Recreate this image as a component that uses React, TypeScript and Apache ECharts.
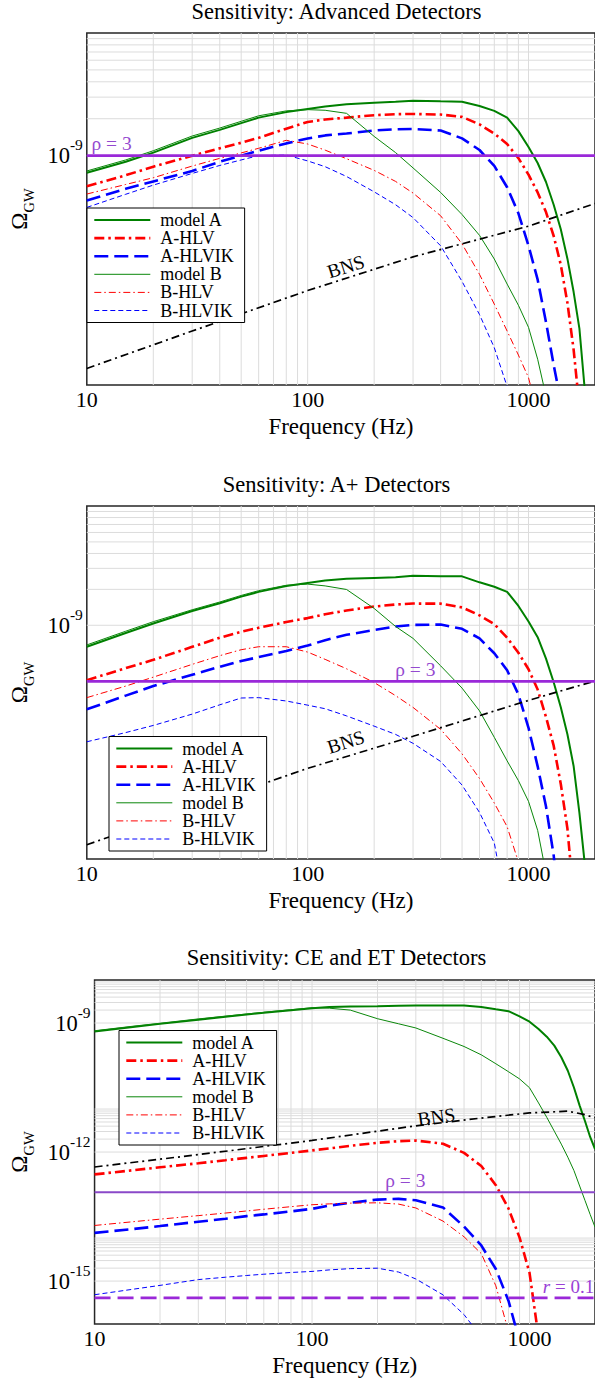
import React, { useEffect, useRef } from "react";
import * as echarts from "echarts";

const FONT = "Liberation Serif, Times New Roman, serif";

// Frequency grid (Hz) shared by the detector curves
const FREQ = [10, 15, 20, 30, 40, 50, 60, 80, 100, 120, 150, 200, 250, 300, 400, 500, 600, 700, 800, 900, 1000, 1100, 1200, 1300, 1400, 1500, 1600, 1700, 1800, 1900, 2000];
const BNS_FREQ_AB = [10, 30, 100, 300, 1000, 2000];
const BNS_FREQ_CE = [10, 30, 100, 300, 600, 1000, 1500, 1800, 2000];

// log10(Omega_GW) — Advanced detectors
const advModelA = [-9.14, -9.05, -8.975, -8.855, -8.79, -8.735, -8.69, -8.645, -8.62, -8.6, -8.58, -8.568, -8.56, -8.553, -8.557, -8.56, -8.595, -8.635, -8.69, -8.8, -8.93, -9.06, -9.215, -9.4, -9.6, -9.84, -10.11, -10.41, -10.92, null, null];
const advAHLV = [-9.25, -9.16, -9.09, -9.0, -8.94, -8.895, -8.855, -8.78, -8.725, -8.705, -8.69, -8.67, -8.662, -8.66, -8.665, -8.684, -8.745, -8.82, -8.905, -9.02, -9.155, -9.3, -9.46, -9.655, -9.89, -10.2, -10.58, -11.05, null, null, null];
const advAHLVIK = [-9.365, -9.27, -9.21, -9.125, -9.05, -9.0, -8.96, -8.9, -8.86, -8.835, -8.82, -8.795, -8.785, -8.783, -8.795, -8.859, -8.954, -9.084, -9.258, -9.47, -9.734, -10.011, -10.358, -10.707, -11.0, null, null, null, null, null, null];
const advModelB = [-9.125, -9.035, -8.96, -8.84, -8.775, -8.72, -8.675, -8.635, -8.625, -8.63, -8.655, -8.843, -8.975, -9.1, -9.3, -9.48, -9.65, -9.843, -10.047, -10.22, -10.4, -10.66, -10.96, null, null, null, null, null, null, null, null];
const advBHLV = [-9.313, -9.235, -9.18, -9.085, -9.022, -8.978, -8.94, -8.875, -8.905, -8.955, -9.025, -9.12, -9.21, -9.305, -9.49, -9.719, -9.968, -10.211, -10.43, -10.626, -10.81, -11.1, null, null, null, null, null, null, null, null, null];
const advBHLVIK = [-9.422, -9.315, -9.24, -9.145, -9.08, -9.035, -9.0, -8.995, -9.043, -9.09, -9.17, -9.295, -9.4, -9.505, -9.735, -10.025, -10.296, -10.566, -10.883, -11.4, null, null, null, null, null, null, null, null, null, null, null];
const advBNS = [-10.735, -10.43, -10.1, -9.825, -9.575, -9.39];

// A+ detectors
const apModelA = [-9.18, -9.065, -8.985, -8.88, -8.815, -8.76, -8.72, -8.67, -8.645, -8.625, -8.61, -8.603, -8.597, -8.585, -8.589, -8.59, -8.64, -8.677, -8.72, -8.838, -8.968, -9.1, -9.28, -9.478, -9.688, -9.914, -10.18, -10.574, -11.01, null, null];
const apAHLV = [-9.461, -9.36, -9.29, -9.181, -9.105, -9.054, -9.021, -8.973, -8.94, -8.908, -8.876, -8.843, -8.826, -8.818, -8.819, -8.85, -8.917, -8.99, -9.104, -9.231, -9.369, -9.539, -9.769, -10.01, -10.331, -10.704, -11.28, null, null, null, null];
const apAHLVIK = [-9.705, -9.59, -9.51, -9.415, -9.348, -9.3, -9.267, -9.215, -9.17, -9.125, -9.08, -9.04, -9.01, -8.997, -8.994, -9.03, -9.11, -9.235, -9.377, -9.58, -9.86, -10.183, -10.52, -10.93, -11.5, null, null, null, null, null, null];
const apModelB = [-9.165, -9.05, -8.97, -8.87, -8.805, -8.75, -8.71, -8.665, -8.655, -8.67, -8.7, -8.859, -9.01, -9.11, -9.34, -9.527, -9.718, -9.94, -10.137, -10.303, -10.477, -10.72, -11.08, null, null, null, null, null, null, null, null];
const apBHLV = [-9.607, -9.51, -9.435, -9.328, -9.255, -9.205, -9.18, -9.18, -9.225, -9.286, -9.365, -9.48, -9.59, -9.689, -9.873, -10.078, -10.285, -10.491, -10.689, -10.985, -11.5, null, null, null, null, null, null, null, null, null, null];
const apBHLVIK = [-9.977, -9.9, -9.84, -9.745, -9.667, -9.61, -9.607, -9.635, -9.67, -9.7, -9.76, -9.846, -9.915, -9.99, -10.142, -10.34, -10.57, -10.826, -11.4, null, null, null, null, null, null, null, null, null, null, null, null];
const apBNS = [-10.84, -10.535, -10.2, -9.931, -9.63, -9.467];

// CE and ET detectors
const ceModelA = [-9.195, -9.09, -9.02, -8.922, -8.853, -8.8, -8.763, -8.703, -8.655, -8.63, -8.615, -8.61, -8.6, -8.592, -8.59, -8.595, -8.63, -8.682, -8.725, -8.845, -8.97, -9.139, -9.318, -9.526, -9.795, -10.11, -10.5, -10.92, -11.285, -11.65, -11.93];
const ceAHLV = [-12.52, -12.423, -12.355, -12.26, -12.19, -12.135, -12.09, -12.02, -11.962, -11.915, -11.855, -11.785, -11.748, -11.732, -11.808, -12.019, -12.325, -12.77, -13.31, -13.99, -14.81, -16.3, null, null, null, null, null, null, null, null, null];
const ceAHLVIK = [-13.88, -13.79, -13.72, -13.62, -13.55, -13.49, -13.45, -13.38, -13.32, -13.245, -13.18, -13.105, -13.088, -13.12, -13.287, -13.733, -14.172, -14.72, -15.455, -16.4, null, null, null, null, null, null, null, null, null, null, null];
const ceModelB = [-9.18, -9.075, -9.005, -8.905, -8.84, -8.79, -8.75, -8.69, -8.645, -8.655, -8.7, -8.9, -9.018, -9.115, -9.355, -9.546, -9.74, -9.947, -10.132, -10.3, -10.505, -10.858, -11.193, -11.515, -11.816, -12.12, -12.43, -12.79, -13.13, -13.45, -13.745];
const ceBHLV = [-13.707, -13.62, -13.56, -13.478, -13.418, -13.37, -13.33, -13.27, -13.225, -13.205, -13.188, -13.18, -13.21, -13.3, -13.605, -13.97, -14.361, -15.11, -16.17, null, null, null, null, null, null, null, null, null, null, null, null];
const ceBHLVIK = [-15.317, -15.19, -15.1, -14.965, -14.91, -14.87, -14.84, -14.8, -14.775, -14.74, -14.71, -14.7, -14.79, -14.95, -15.32, -15.78, -16.3, null, null, null, null, null, null, null, null, null, null, null, null, null, null];
const ceBNS = [-12.347, -12.06, -11.73, -11.39, -11.21, -11.09, -11.05, -11.13, -11.21];

// Threshold lines (log10 Omega)
const advRho = -9.0;
const apRho = -9.47;
const ceRho = -12.936;
const ceR01 = -15.392;

// Axis ticks / labels / grid
const X_LABELS = [10, 100, 1000];
const X_GRID = [20, 30, 40, 50, 60, 70, 80, 90, 100, 200, 300, 400, 500, 600, 700, 800, 900, 1000];
const Y_LABELS_AB = [-9];
const Y_LABELS_CE = [-9, -12, -15];
const Y_GRID_AB = [1e-9, 2e-9, 3e-9, 4e-9, 5e-9, 6e-9, 7e-9, 8e-9, 9e-9];
const Y_GRID_CE = [
  1e-9, 2e-9, 3e-9, 4e-9, 5e-9, 6e-9, 7e-9, 8e-9, 9e-9,
  1e-12, 2e-12, 3e-12, 4e-12, 5e-12, 6e-12, 7e-12, 8e-12, 9e-12, 1e-11,
  1e-15, 2e-15, 3e-15, 4e-15, 5e-15, 6e-15, 7e-15, 8e-15, 9e-15, 1e-14,
];

const NAMES = ["model A", "A-HLV", "A-HLVIK", "model B", "B-HLV", "B-HLVIK"];
const STYLE: Record<string, any> = {
  "model A": { color: "#008000", width: 2, type: "solid" },
  "A-HLV": { color: "#ff0000", width: 2.6, type: [10, 4, 2.5, 4] },
  "A-HLVIK": { color: "#0000ff", width: 2.6, type: [14, 6] },
  "model B": { color: "#0a870a", width: 1, type: "solid" },
  "B-HLV": { color: "#ff0000", width: 1, type: [7, 3, 1.5, 3] },
  "B-HLVIK": { color: "#0000ff", width: 1, type: [5, 3] },
};

const PANELS = [
  {
    top: 0, height: 470, title: "Sensitivity: Advanced Detectors", titleTop: 0.3,
    gridTop: 33, gridHeight: 352, yMin: -10.87, yMax: -8,
    yLabels: Y_LABELS_AB, yGrid: Y_GRID_AB, legendLeft: 87, legendTop: 208,
    curves: [advModelA, advAHLV, advAHLVIK, advModelB, advBHLV, advBHLVIK],
    bnsFreq: BNS_FREQ_AB, bns: advBNS, bnsLabel: { f: 149, v: -9.905, rot: 17.5 },
    rho: advRho, rhoColor: "#9a28d8", rhoWidth: 2.7, rhoLabelF: 10.5, r01: null,
  },
  {
    top: 470, height: 470, title: "Sensitivity: A+ Detectors", titleTop: 2.8,
    gridTop: 36, gridHeight: 353, yMin: -10.96, yMax: -8,
    yLabels: Y_LABELS_AB, yGrid: Y_GRID_AB, legendLeft: 109, legendTop: 266.5,
    curves: [apModelA, apAHLV, apAHLVIK, apModelB, apBHLV, apBHLVIK],
    bnsFreq: BNS_FREQ_AB, bns: apBNS, bnsLabel: { f: 149, v: -9.979, rot: 17.5 },
    rho: apRho, rhoColor: "#9a28d8", rhoWidth: 2.7, rhoLabelF: 249, r01: null,
  },
  {
    top: 940, height: 442, title: "Sensitivity: CE and ET Detectors", titleTop: 6.4,
    gridTop: 40, gridHeight: 353, yMin: -16, yMax: -8,
    yLabels: Y_LABELS_CE, yGrid: Y_GRID_CE, legendLeft: 119, legendTop: 90.5,
    curves: [ceModelA, ceAHLV, ceAHLVIK, ceModelB, ceBHLV, ceBHLVIK],
    bnsFreq: BNS_FREQ_CE, bns: ceBNS, bnsLabel: { f: 373, v: -11.186, rot: 8 },
    rho: ceRho, rhoColor: "#8a48c8", rhoWidth: 2, rhoLabelF: 217, r01: ceR01,
  },
];

const pairs = (freq: number[], logs: (number | null)[]) =>
  freq.map((f, i) => (logs[i] == null ? null : [f, Math.pow(10, logs[i] as number)])).filter((p) => p !== null);

function gridSegments(p: any) {
  const lo = Math.pow(10, p.yMin);
  const hi = Math.pow(10, p.yMax);
  const out: any[] = [];
  X_GRID.forEach((f) => {
    out.push([f, lo], [f, hi], [f, null]);
  });
  p.yGrid.forEach((v: number) => {
    out.push([10, v], [2000, v], [2000, null]);
  });
  return out;
}

function buildOption(p: any) {
  const series: any[] = [];
  series.push({
    type: "line", name: "gridlines", data: gridSegments(p), silent: true, z: 1, symbol: "none",
    connectNulls: false, color: "#dcdcdc",
    lineStyle: { color: "#dcdcdc", width: 1, type: "solid" },
  });
  NAMES.forEach((name, i) => {
    const s = STYLE[name];
    series.push({
      type: "line", name, data: pairs(FREQ, p.curves[i]), symbol: "none", showSymbol: false,
      silent: true, z: 3, clip: true, color: s.color,
      lineStyle: { color: s.color, width: s.width, type: s.type },
      itemStyle: { color: s.color },
    });
  });
  series.push({
    type: "line", name: "BNS", data: pairs(p.bnsFreq, p.bns), symbol: "none", silent: true, z: 3,
    color: "#000", lineStyle: { color: "#000", width: 1.7, type: [8, 4, 2, 4] },
  });
  series.push({
    type: "line", name: "rho", data: [[10, Math.pow(10, p.rho)], [2000, Math.pow(10, p.rho)]],
    symbol: "none", silent: true, z: 4, color: p.rhoColor,
    lineStyle: { color: p.rhoColor, width: p.rhoWidth, type: "solid" },
  });
  if (p.r01 != null) {
    series.push({
      type: "line", name: "r", data: [[10, Math.pow(10, p.r01)], [2000, Math.pow(10, p.r01)]],
      symbol: "none", silent: true, z: 4, color: "#9a28d8",
      lineStyle: { color: "#9a28d8", width: 2.7, type: [16, 7] },
    });
  }
  return {
    animation: false,
    backgroundColor: "#fff",
    title: {
      text: p.title, left: 336.5, top: p.titleTop, textAlign: "center", padding: 0,
      textStyle: { fontFamily: FONT, fontSize: 22.5, fontWeight: "normal", color: "#000" },
    },
    grid: {
      left: 77.8, top: p.gridTop, width: 518, height: p.gridHeight,
      show: true, backgroundColor: "#fff", borderColor: "#262626", borderWidth: 1.5,
    },
    xAxis: {
      type: "log", logBase: 10, min: 10, max: 2000,
      axisLine: { show: false }, axisTick: { show: false }, splitLine: { show: false },
      axisLabel: {
        customValues: X_LABELS, margin: 3, color: "#000", fontFamily: FONT, fontSize: 22,
        formatter: (v: number) => String(Math.round(v)),
      },
      name: "Frequency (Hz)", nameLocation: "middle", nameGap: 22.5,
      nameTextStyle: { fontFamily: FONT, fontSize: 23, color: "#000" },
    },
    yAxis: {
      type: "log", logBase: 10, min: Math.pow(10, p.yMin), max: Math.pow(10, p.yMax),
      axisLine: { show: false }, axisTick: { show: false }, splitLine: { show: false },
      axisLabel: {
        customValues: p.yLabels.map((e: number) => Math.pow(10, e)), margin: 4,
        formatter: (v: number) => `{b|10}{s|${Math.round(Math.log10(v))}}`,
        rich: {
          b: { fontFamily: FONT, fontSize: 22.5, color: "#000" },
          s: { fontFamily: FONT, fontSize: 15.5, color: "#000", padding: [0, 0, 22, 0] },
        },
      },
      name: "{o|Ω}{g|GW}", nameLocation: "middle", nameRotate: 90, nameGap: 30,
      nameTextStyle: {
        rich: {
          o: { fontFamily: FONT, fontSize: 23, color: "#000" },
          g: { fontFamily: FONT, fontSize: 14.5, color: "#000", padding: [19, 0, 0, 0] },
        },
      },
    },
    legend: {
      data: NAMES, orient: "vertical", left: p.legendLeft, top: p.legendTop,
      itemWidth: 56, itemHeight: 12, itemGap: 0.1, padding: [3, 11, 3, 6],
      backgroundColor: "#fff", borderColor: "#000", borderWidth: 1, borderRadius: 0,
      selectedMode: false,
      itemStyle: { opacity: 0 },
      lineStyle: { width: "inherit" },
      textStyle: { fontFamily: FONT, fontSize: 18, color: "#000", lineHeight: 18, padding: [0, 0, 0, 5] },
    },
    series,
  };
}

function Panel({ cfg }: { cfg: any }) {
  const ref = useRef<HTMLDivElement>(null);
  useEffect(() => {
    const chart = echarts.init(ref.current as HTMLDivElement, null, { renderer: "svg" });
    chart.setOption(buildOption(cfg));
    const px = (f: number, lv: number) => chart.convertToPixel({ gridIndex: 0 }, [f, Math.pow(10, lv)]) as number[];
    const els: any[] = [];
    const b = px(cfg.bnsLabel.f, cfg.bnsLabel.v);
    els.push({
      type: "text", x: b[0], y: b[1], rotation: (cfg.bnsLabel.rot * Math.PI) / 180, z: 10,
      style: { text: "BNS", fontFamily: FONT, fontSize: 19.5, fill: "#000", align: "center", verticalAlign: "middle" },
    });
    const r = px(cfg.rhoLabelF, cfg.rho);
    els.push({
      type: "text", x: r[0], y: r[1] - cfg.rhoWidth / 2 - 0.5, z: 10,
      style: { text: "ρ = 3", fontFamily: FONT, fontSize: 19.5, fill: "#9449cf", align: "left", verticalAlign: "bottom" },
    });
    if (cfg.r01 != null) {
      const q = px(1151, cfg.r01);
      els.push({
        type: "text", x: q[0], y: q[1] - 2, z: 10,
        style: {
          text: "{i|r} = 0.1", fontFamily: FONT, fontSize: 19, fill: "#9a3fd6", align: "left", verticalAlign: "bottom",
          rich: { i: { fontFamily: FONT, fontSize: 19, fontStyle: "italic", fill: "#9a3fd6" } },
        },
      });
    }
    chart.setOption({ graphic: { elements: els } });
    return () => chart.dispose();
  }, []);
  return <div ref={ref} style={{ position: "absolute", left: 0, top: cfg.top, width: 595, height: cfg.height }} />;
}

export default function App() {
  return (
    <div style={{ position: "absolute", left: 0, top: 0, width: 595, height: 1382, background: "#fff", overflow: "hidden" }}>
      {PANELS.map((p, i) => (
        <Panel key={i} cfg={p} />
      ))}
    </div>
  );
}
